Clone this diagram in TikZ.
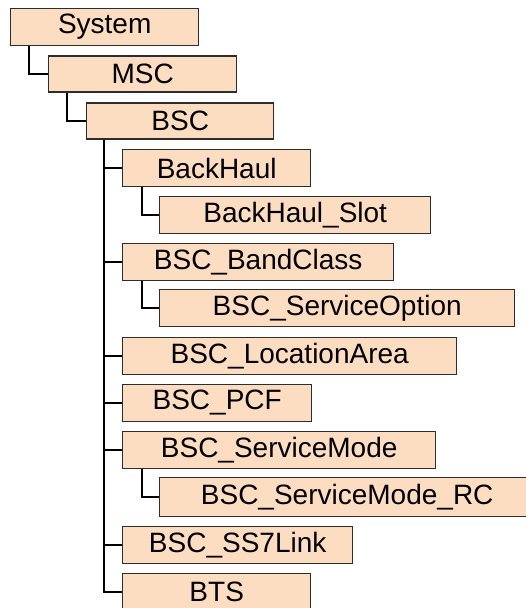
\documentclass[tikz,border=0pt]{standalone}
\usepackage{fontspec}
\setmainfont{Liberation Sans}
\definecolor{peach}{RGB}{253,221,194}
\definecolor{rim}{RGB}{45,45,45}
\begin{document}
\begin{tikzpicture}[x=1pt, y=-1pt,
    box/.style={draw=rim, line width=1.4pt, fill=peach, rectangle, anchor=west,
      minimum height=37pt, inner sep=0pt, font=\fontsize{28}{28}\selectfont},
    link/.style={line width=1.8pt, black}]
    \useasboundingbox (0,0) rectangle (525,608);

    \node[box, minimum width=188pt] (system) at (10, 27) {System};
    \node[box, minimum width=188pt, minimum height=36pt] (msc) at (48, 74) {MSC};
    \node[box, minimum width=187pt, minimum height=36pt] (bsc) at (86, 121) {BSC};
    \node[box, minimum width=188pt] (backhaul) at (122, 168) {BackHaul};
    \node[box, minimum width=271pt] (slot) at (159, 215) {BackHaul\_Slot};
    \node[box, minimum width=271pt] (bandclass) at (122, 262) {BSC\_BandClass};
    \node[box, minimum width=355pt] (serviceoption) at (159, 308) {BSC\_ServiceOption};
    \node[box, minimum width=334pt] (locationarea) at (122, 356) {BSC\_LocationArea};
    \node[box, minimum width=189pt] (pcf) at (122, 403) {BSC\_PCF};
    \node[box, minimum width=313pt] (servicemode) at (122, 450) {BSC\_ServiceMode};
    \node[box, minimum width=375pt, minimum height=39pt] (servicemoderc) at (159, 497) {BSC\_ServiceMode\_RC};
    \node[box, minimum width=230pt] (ss7link) at (122, 545) {BSC\_SS7Link};
    \node[box, minimum width=188pt] (bts) at (122, 592) {BTS};

    \draw[link] ([xshift=19pt]system.south west) |- (msc.west);
    \draw[link] ([xshift=19pt]msc.south west) |- (bsc.west);
    \draw[link] ([xshift=18pt]bsc.south west) |- (backhaul.west);
    \draw[link] ([xshift=18pt]bsc.south west) |- (bandclass.west);
    \draw[link] ([xshift=18pt]bsc.south west) |- (locationarea.west);
    \draw[link] ([xshift=18pt]bsc.south west) |- (pcf.west);
    \draw[link] ([xshift=18pt]bsc.south west) |- (servicemode.west);
    \draw[link] ([xshift=18pt]bsc.south west) |- (ss7link.west);
    \draw[link] ([xshift=18pt]bsc.south west) |- (bts.west);
    \draw[link] ([xshift=20pt]backhaul.south west) |- (slot.west);
    \draw[link] ([xshift=20pt]bandclass.south west) |- (serviceoption.west);
    \draw[link] ([xshift=20pt]servicemode.south west) |- (servicemoderc.west);
\end{tikzpicture}
\end{document}
